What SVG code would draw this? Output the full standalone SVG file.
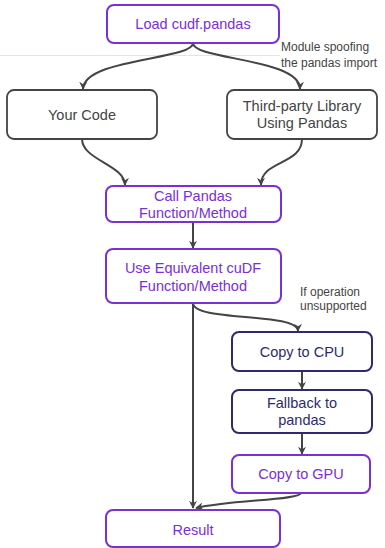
<svg xmlns="http://www.w3.org/2000/svg" width="385" height="548" viewBox="0 0 385 548">
<defs>
<marker id="ah" viewBox="0 0 10 10" refX="9" refY="5" markerWidth="8" markerHeight="8" orient="auto-start-reverse" markerUnits="userSpaceOnUse">
<path d="M0,0 L10,5 L0,10 L3,5 z" fill="#444"/>
</marker>
<style>
.t{font-family:"Liberation Sans",Arial,sans-serif;font-size:14.5px;text-anchor:middle}
.p rect{fill:#fff;stroke:#7b2fd6;stroke-width:2}
.p text{fill:#7b2fd6}
.n rect{fill:#fff;stroke:#2e2a6b;stroke-width:2}
.n text{fill:#2e2a6b}
.g rect{fill:#fff;stroke:#444;stroke-width:1.8}
.g text{fill:#444}
.c path{fill:none;stroke:#444;stroke-width:2;marker-end:url(#ah)}
.lbl{font-family:"Liberation Sans",Arial,sans-serif;font-size:12px;fill:#444}
</style>
</defs>
<rect width="385" height="548" fill="#fff"/>
<line x1="0" y1="55.5" x2="280" y2="55.5" stroke="#e4e4e4" stroke-width="1"/>
<g id="connectors" class="c">
<path d="M193,43 C193,60 84,58 83,89"/>
<path d="M193,43 C193,60 300,58 300,89"/>
<path d="M82,139 C82,160 125,165 125,185"/>
<path d="M302,139 C302,165 261,160 261,185"/>
<path d="M193,222 L193,248"/>
<path d="M193,303 C193,322 298,312 298,331"/>
<path d="M302,371 L302,389"/>
<path d="M302,433 L302,454"/>
<path d="M193,303 L193,508"/>
<path d="M301,493 C301,500 230,500 196,508"/>
</g>
<g id="load" class="p"><rect x="107" y="5" width="172" height="38" rx="7"/><text class="t" x="193" y="29">Load cudf.pandas</text></g>
<g id="yourcode" class="g"><rect x="7" y="90" width="150" height="49" rx="7"/><text class="t" x="82" y="120">Your Code</text></g>
<g id="thirdparty" class="g"><rect x="227" y="90" width="150" height="49" rx="7"/><text class="t" x="302" y="111">Third-party Library</text><text class="t" x="302" y="128">Using Pandas</text></g>
<g id="callpandas" class="p"><rect x="106" y="186" width="175" height="36" rx="7"/><text class="t" x="193" y="201">Call Pandas</text><text class="t" x="193" y="218">Function/Method</text></g>
<g id="usecudf" class="p"><rect x="106" y="249" width="175" height="54" rx="7"/><text class="t" x="193" y="273">Use Equivalent cuDF</text><text class="t" x="193" y="291">Function/Method</text></g>
<g id="copycpu" class="n"><rect x="232" y="332" width="140" height="39" rx="7"/><text class="t" x="302" y="357">Copy to CPU</text></g>
<g id="fallback" class="n"><rect x="232" y="390" width="140" height="43" rx="7"/><text class="t" x="302" y="408">Fallback to</text><text class="t" x="302" y="425">pandas</text></g>
<g id="copygpu" class="p"><rect x="232" y="455" width="138" height="38" rx="7"/><text class="t" x="301" y="479">Copy to GPU</text></g>
<g id="result" class="p"><rect x="106" y="510" width="174" height="37" rx="7"/><text class="t" x="193" y="535">Result</text></g>
<text class="lbl" x="281" y="51">Module spoofing</text>
<text class="lbl" x="281" y="67">the pandas import</text>
<text class="lbl" x="300" y="296">If operation</text>
<text class="lbl" x="300" y="310">unsupported</text>
</svg>
